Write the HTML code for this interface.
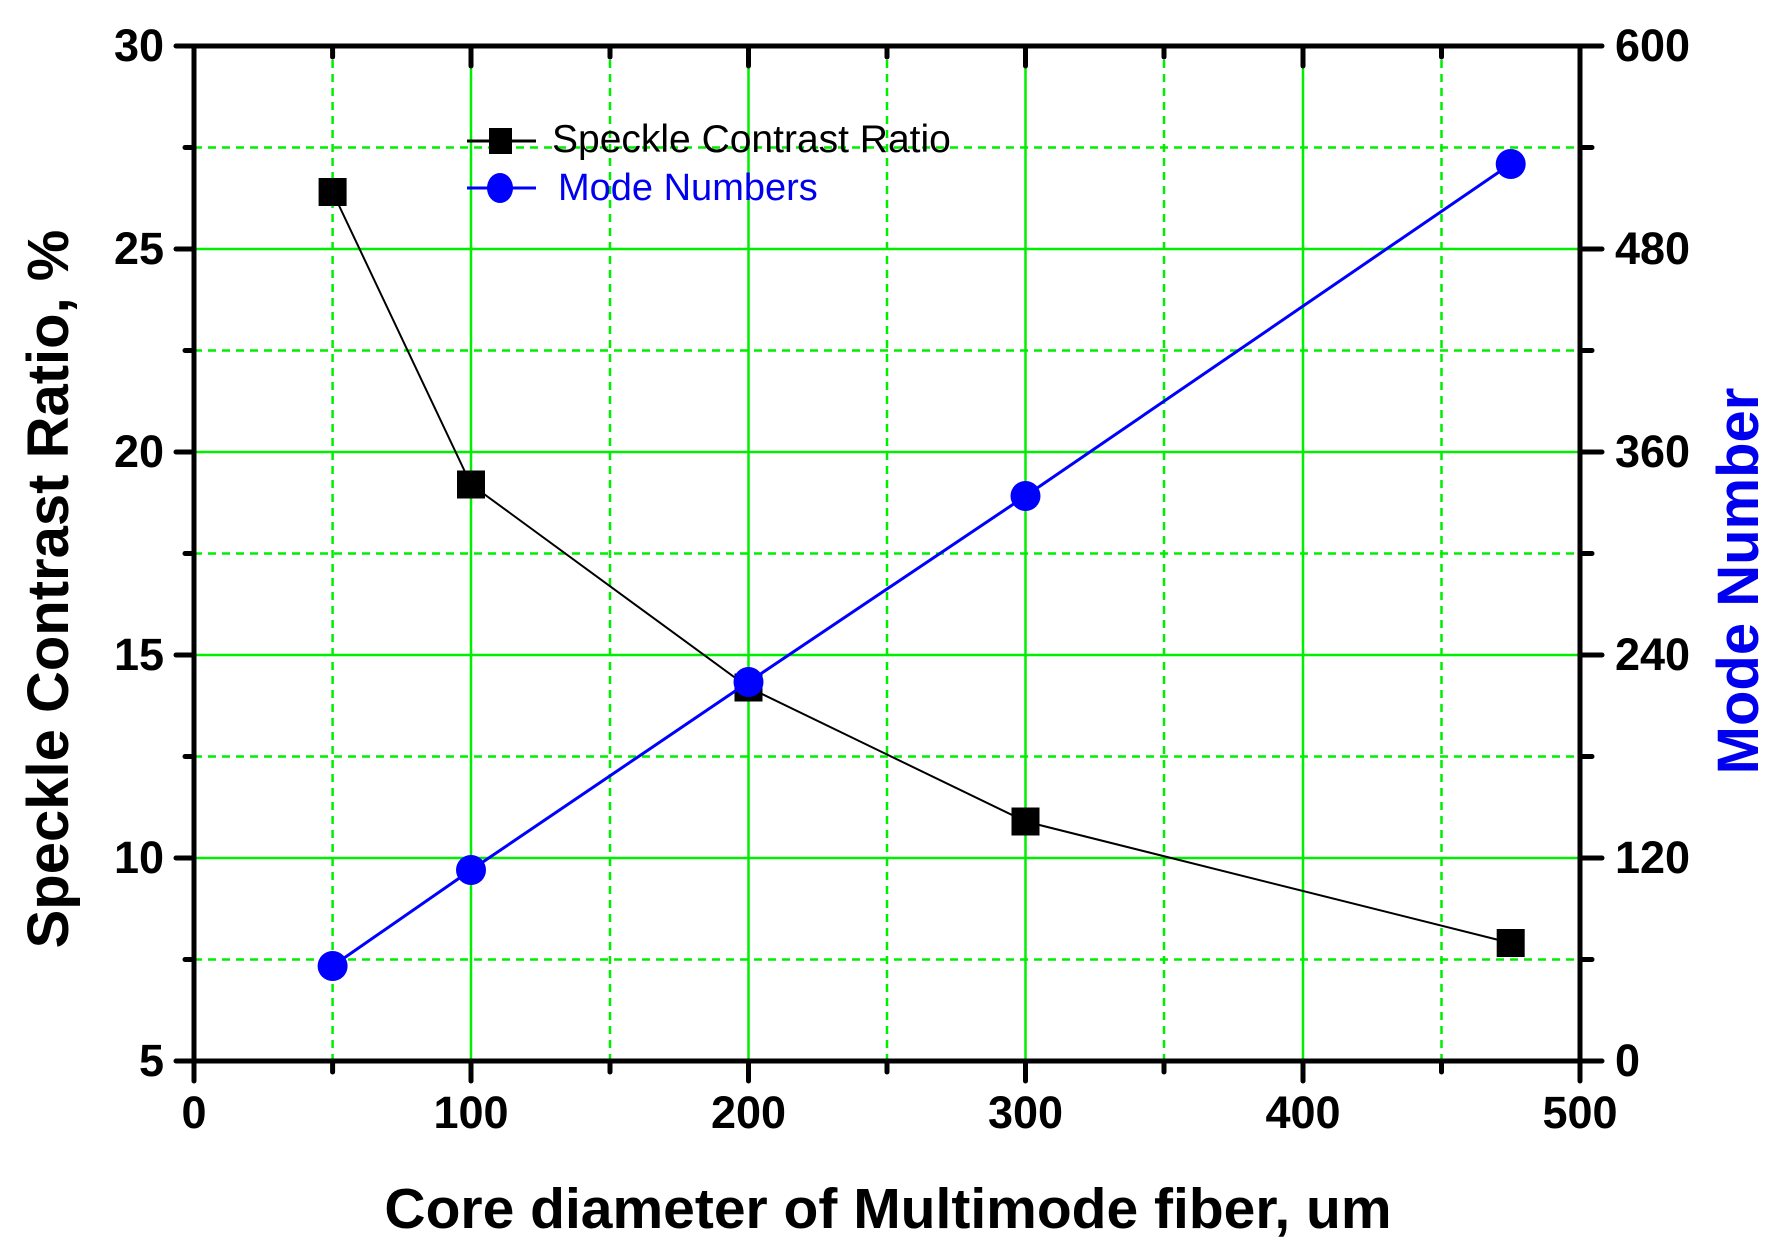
<!DOCTYPE html>
<html><head><meta charset="utf-8"><style>html,body{margin:0;padding:0;background:#fff}svg{display:block}</style></head>
<body>
<svg width="1781" height="1246" viewBox="0 0 1781 1246" xmlns="http://www.w3.org/2000/svg" font-family="Liberation Sans, Arial, sans-serif">
<rect width="1781" height="1246" fill="#fff"/>
<g stroke="#00ee00" stroke-width="2.5">
<line x1="471" y1="46" x2="471" y2="1061"/><line x1="748.5" y1="46" x2="748.5" y2="1061"/><line x1="1025.5" y1="46" x2="1025.5" y2="1061"/><line x1="1303" y1="46" x2="1303" y2="1061"/>
<line x1="194" y1="249" x2="1580" y2="249"/><line x1="194" y1="452" x2="1580" y2="452"/><line x1="194" y1="655" x2="1580" y2="655"/><line x1="194" y1="858" x2="1580" y2="858"/>
</g>
<g stroke="#00ee00" stroke-width="2.5" stroke-dasharray="8,6">
<line x1="332.6" y1="46" x2="332.6" y2="1061"/><line x1="610" y1="46" x2="610" y2="1061"/><line x1="887" y1="46" x2="887" y2="1061"/><line x1="1164" y1="46" x2="1164" y2="1061"/><line x1="1441.5" y1="46" x2="1441.5" y2="1061"/>
<line x1="194" y1="147.5" x2="1580" y2="147.5"/><line x1="194" y1="350.5" x2="1580" y2="350.5"/><line x1="194" y1="553.5" x2="1580" y2="553.5"/><line x1="194" y1="756.5" x2="1580" y2="756.5"/><line x1="194" y1="959.5" x2="1580" y2="959.5"/>
</g>
<rect x="194" y="46" width="1386" height="1015" fill="none" stroke="#000" stroke-width="5"/>
<g stroke="#000" stroke-width="5" stroke-linecap="round">
<line x1="176" y1="46" x2="194" y2="46"/><line x1="176" y1="249" x2="194" y2="249"/><line x1="176" y1="452" x2="194" y2="452"/><line x1="176" y1="655" x2="194" y2="655"/><line x1="176" y1="858" x2="194" y2="858"/><line x1="176" y1="1061" x2="194" y2="1061"/>
<line x1="185" y1="147.5" x2="194" y2="147.5"/><line x1="185" y1="350.5" x2="194" y2="350.5"/><line x1="185" y1="553.5" x2="194" y2="553.5"/><line x1="185" y1="756.5" x2="194" y2="756.5"/><line x1="185" y1="959.5" x2="194" y2="959.5"/>
<line x1="1580" y1="46" x2="1602" y2="46"/><line x1="1580" y1="249" x2="1602" y2="249"/><line x1="1580" y1="452" x2="1602" y2="452"/><line x1="1580" y1="655" x2="1602" y2="655"/><line x1="1580" y1="858" x2="1602" y2="858"/><line x1="1580" y1="1061" x2="1602" y2="1061"/>
<line x1="1580" y1="147.5" x2="1592" y2="147.5"/><line x1="1580" y1="350.5" x2="1592" y2="350.5"/><line x1="1580" y1="553.5" x2="1592" y2="553.5"/><line x1="1580" y1="756.5" x2="1592" y2="756.5"/><line x1="1580" y1="959.5" x2="1592" y2="959.5"/>
<line x1="194" y1="1061" x2="194" y2="1081"/><line x1="471" y1="1061" x2="471" y2="1081"/><line x1="748.5" y1="1061" x2="748.5" y2="1081"/><line x1="1025.5" y1="1061" x2="1025.5" y2="1081"/><line x1="1303" y1="1061" x2="1303" y2="1081"/><line x1="1580" y1="1061" x2="1580" y2="1081"/>
<line x1="332.6" y1="1061" x2="332.6" y2="1072"/><line x1="610" y1="1061" x2="610" y2="1072"/><line x1="887" y1="1061" x2="887" y2="1072"/><line x1="1164" y1="1061" x2="1164" y2="1072"/><line x1="1441.5" y1="1061" x2="1441.5" y2="1072"/>
<line x1="471" y1="46" x2="471" y2="66"/><line x1="748.5" y1="46" x2="748.5" y2="66"/><line x1="1025.5" y1="46" x2="1025.5" y2="66"/><line x1="1303" y1="46" x2="1303" y2="66"/>
<line x1="332.6" y1="46" x2="332.6" y2="57"/><line x1="610" y1="46" x2="610" y2="57"/><line x1="887" y1="46" x2="887" y2="57"/><line x1="1164" y1="46" x2="1164" y2="57"/><line x1="1441.5" y1="46" x2="1441.5" y2="57"/>
</g>
<g font-size="45" font-weight="bold" fill="#000" text-anchor="end">
<text x="164" y="61">30</text><text x="164" y="264">25</text><text x="164" y="467">20</text><text x="164" y="670">15</text><text x="164" y="873">10</text><text x="164" y="1076">5</text>
</g>
<g font-size="45" font-weight="bold" fill="#000" text-anchor="start">
<text x="1615" y="61">600</text><text x="1615" y="264">480</text><text x="1615" y="467">360</text><text x="1615" y="670">240</text><text x="1615" y="873">120</text><text x="1615" y="1076">0</text>
</g>
<g font-size="45" font-weight="bold" fill="#000" text-anchor="middle">
<text x="194" y="1128">0</text><text x="471" y="1128">100</text><text x="748.5" y="1128">200</text><text x="1025.5" y="1128">300</text><text x="1303" y="1128">400</text><text x="1580" y="1128">500</text>
</g>
<text x="888" y="1228" font-size="57" font-weight="bold" text-anchor="middle">Core diameter of Multimode fiber, um</text>
<text transform="translate(68,589) rotate(-90)" font-size="58" font-weight="bold" text-anchor="middle">Speckle Contrast Ratio, %</text>
<text transform="translate(1758,581) rotate(-90)" font-size="58" font-weight="bold" fill="#0000ee" text-anchor="middle">Mode Number</text>
<polyline points="332.6,192 471,484.5 748.5,687.5 1025.5,821.5 1510.7,943" fill="none" stroke="#000" stroke-width="2"/>
<g fill="#000">
<rect x="318.6" y="178" width="28" height="28"/><rect x="457" y="470.5" width="28" height="28"/><rect x="734.5" y="673.5" width="28" height="28"/><rect x="1011.5" y="807.5" width="28" height="28"/><rect x="1496.7" y="929" width="28" height="28"/>
</g>
<polyline points="332.6,966 471,870 748.5,682 1025.5,496 1510.7,164" fill="none" stroke="#0000ff" stroke-width="3"/>
<g fill="#0000ff">
<circle cx="332.6" cy="966" r="15"/><circle cx="471" cy="870" r="15"/><circle cx="748.5" cy="682" r="15"/><circle cx="1025.5" cy="496" r="15"/><circle cx="1510.7" cy="164" r="15"/>
</g>
<line x1="467" y1="141" x2="536" y2="141" stroke="#000" stroke-width="3"/>
<rect x="489" y="128" width="23" height="26" fill="#000"/>
<text x="552" y="152" font-size="39" fill="#000">Speckle Contrast Ratio</text>
<line x1="467" y1="188" x2="536" y2="188" stroke="#0000ff" stroke-width="3"/>
<ellipse cx="500" cy="188" rx="13" ry="15" fill="#0000ff"/>
<text x="558" y="200" font-size="38" fill="#0000ee">Mode Numbers</text>
</svg>
</body></html>
